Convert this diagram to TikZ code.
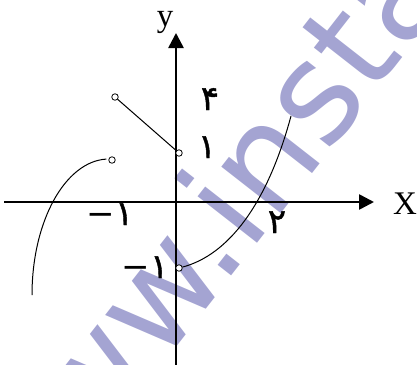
\documentclass[tikz,border=0pt]{standalone}
\usepackage{fontspec}
\setmainfont{Liberation Serif}
\newfontfamily\fa[Script=Arabic,FakeBold=1.2]{DejaVu Sans}
\newfontfamily\dv{DejaVu Sans}
\usetikzlibrary{arrows.meta}
\definecolor{wmark}{RGB}{164,164,210}
\tikzset{
  axis/.style={line width=2.6pt,-{Triangle[length=15pt,width=15pt]}},
  graphline/.style={line width=1pt},
  opendot/.style={circle,draw,line width=0.8pt,fill=white,minimum size=6.5pt,inner sep=0pt},
  axlabel/.style={inner sep=0pt,anchor=base,font=\fontsize{33}{33}\selectfont},
  numlabel/.style={inner sep=0pt,anchor=base,font=\fa\fontsize{34}{34}\selectfont}
}
\newcommand{\negone}{{\dv\fontsize{34}{34}\selectfont −}{\fa\fontsize{34}{34}\selectfont ۱}}
\begin{document}
\begin{tikzpicture}[x=1pt,y=-1pt]
\useasboundingbox (0,0) rectangle (417,364);
\clip (0,0) rectangle (417,364);
% watermark
\node[inner sep=0pt,anchor=base west,rotate=52,text=wmark,font=\dv\fontsize{138}{138}\selectfont] (wm) at (22,545) {www.instac};
% axes
\coordinate (xs) at (4,202);
\coordinate (xe) at (374,202);
\coordinate (ys) at (176,366);
\coordinate (ye) at (176,33);
\draw[axis] (xs) -- (xe);
\draw[axis] (ys) -- (ye);
\node[axlabel] (xl) at (405,214) {X};
\node[axlabel] (yl) at (165,26) {y};
% segment
\node[opendot] (p1) at (115,97) {};
\node[opendot] (p2) at (179,153) {};
\draw[graphline] (p1) -- (p2);
% left curve
\node[opendot] (p3) at (112,160) {};
\coordinate (l0) at (32,295);
\draw[graphline] (l0) arc[start angle=180,end angle=268,x radius=77,y radius=136];
% right curve
\node[opendot] (p4) at (179,268) {};
\coordinate (r1) at (291,116);
\draw[graphline] (p4) .. controls (228,255) and (267,205) .. (r1);
% labels
\node[numlabel] (n4) at (210,110) {۴};
\node[numlabel] (n1) at (207,158) {۱};
\node[numlabel] (nm1) at (110,225) {\negone};
\node[numlabel] (nm1b) at (145,278) {\negone};
\node[numlabel] (n2) at (277,233) {۲};
\end{tikzpicture}
\end{document}
